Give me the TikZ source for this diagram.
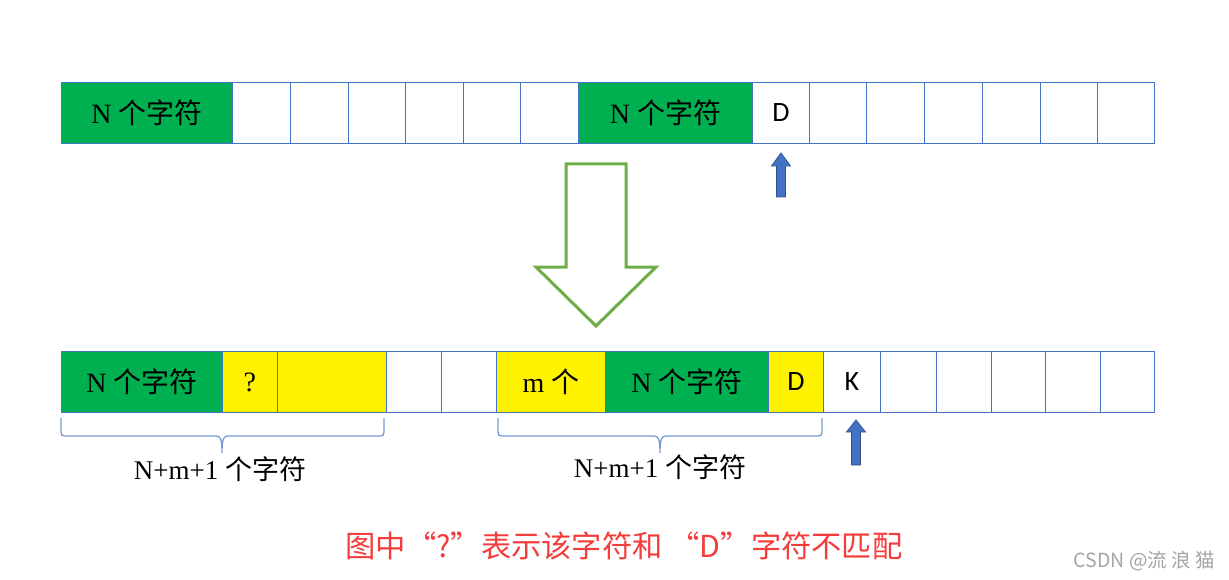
\documentclass[tikz,border=0pt]{standalone}
\usepackage{fontspec}
\setmainfont{Liberation Serif}
\newfontfamily\cjk{Noto Sans CJK SC}
\newfontfamily\calfont{Carlito}
\definecolor{cellblue}{RGB}{68,114,196}
\definecolor{offgreen}{RGB}{0,176,80}
\definecolor{arrowgreen}{RGB}{112,173,71}
\definecolor{arrowblue}{RGB}{68,114,196}
\definecolor{arrowedge}{RGB}{47,82,143}
\definecolor{bracecol}{RGB}{120,152,212}
\definecolor{redtext}{RGB}{245,60,60}
\definecolor{wmgray}{RGB}{165,165,165}
\newcommand\zh[1]{{\cjk #1}}
\begin{document}
\begin{tikzpicture}[x=1pt,y=-1pt,
  cell/.style={draw=cellblue, line width=0.9pt, minimum height=61pt, inner sep=0pt, anchor=north west, font=\fontsize{28pt}{30pt}\selectfont},
  gcell/.style={cell, fill=offgreen},
  ycell/.style={cell, fill=yellow},
  lab/.style={font=\fontsize{27pt}{30pt}\selectfont, inner sep=0pt},
  bracestyle/.style={draw=bracecol, line width=1.3pt},
  blockarrow/.style={fill=arrowblue, draw=arrowedge, line width=0.8pt, line join=miter},
  bigarrow/.style={draw=arrowgreen, fill=white, line width=3pt, line join=miter}
]
\useasboundingbox[fill=white] (0,0) rectangle (1229,580);

% top row
\node[gcell, minimum width=171pt] (t1) at (61,82) {N \zh{个字符}};
\node[cell, minimum width=58pt] (t2) at (232,82) {};
\node[cell, minimum width=58pt] (t3) at (290,82) {};
\node[cell, minimum width=57pt] (t4) at (348,82) {};
\node[cell, minimum width=58pt] (t5) at (405,82) {};
\node[cell, minimum width=57pt] (t6) at (463,82) {};
\node[cell, minimum width=58pt] (t7) at (520,82) {};
\node[gcell, minimum width=174pt] (t8) at (578,82) {N \zh{个字符}};
\node[cell, minimum width=57pt] (t9) at (752,82) {\calfont D};
\node[cell, minimum width=57pt] (t10) at (809,82) {};
\node[cell, minimum width=58pt] (t11) at (866,82) {};
\node[cell, minimum width=58pt] (t12) at (924,82) {};
\node[cell, minimum width=58pt] (t13) at (982,82) {};
\node[cell, minimum width=57pt] (t14) at (1040,82) {};
\node[cell, minimum width=57pt] (t15) at (1097,82) {};

% pointer under D
\path[blockarrow] (781,153) -- (790.5,166) -- (785.5,166) -- (785.5,197) -- (776.5,197) -- (776.5,166) -- (771.5,166) -- cycle;

% big green arrow
\path[bigarrow] (566,164) -- (626,164) -- (626,267) -- (656,267) -- (596,326) -- (536,267) -- (566,267) -- cycle;

% bottom row
\node[gcell, minimum width=161pt] (b1) at (61,351) {N \zh{个字符}};
\node[ycell, minimum width=55pt] (b2) at (222,351) {?};
\node[ycell, minimum width=109pt] (b3) at (277,351) {};
\node[cell, minimum width=55pt] (b4) at (386,351) {};
\node[cell, minimum width=55pt] (b5) at (441,351) {};
\node[ycell, minimum width=109pt] (b6) at (496,351) {m \zh{个}};
\node[gcell, minimum width=163pt] (b7) at (605,351) {N \zh{个字符}};
\node[ycell, minimum width=55pt] (b8) at (768,351) {\calfont D};
\node[cell, minimum width=57pt] (b9) at (823,351) {\calfont K};
\node[cell, minimum width=56pt] (b10) at (880,351) {};
\node[cell, minimum width=55pt] (b11) at (936,351) {};
\node[cell, minimum width=54pt] (b12) at (991,351) {};
\node[cell, minimum width=55pt] (b13) at (1045,351) {};
\node[cell, minimum width=54pt] (b14) at (1100,351) {};

% pointer under K
\path[blockarrow] (856,420) -- (865.5,432) -- (860.5,432) -- (860.5,465) -- (851.5,465) -- (851.5,432) -- (846.5,432) -- cycle;

% braces
\draw[bracestyle] (61,418) -- (61,432) .. controls (61,435) and (62,436) .. (65,436) -- (216,436) .. controls (220,436) and (222,438) .. (222,453) .. controls (222,438) and (224,436) .. (228,436) -- (380,436) .. controls (383,436) and (384,435) .. (384,432) -- (384,418);
\draw[bracestyle] (498,418) -- (498,432) .. controls (498,435) and (499,436) .. (502,436) -- (654,436) .. controls (658,436) and (660,438) .. (660,453) .. controls (660,438) and (662,436) .. (666,436) -- (818,436) .. controls (821,436) and (822,435) .. (822,432) -- (822,418);

\node[lab] (l1) at (220,469) {N+m+1 \zh{个字符}};
\node[lab] (l2) at (660,467) {N+m+1 \zh{个字符}};

% caption
\node[font=\cjk\fontsize{30.3pt}{33pt}\selectfont, text=redtext, inner sep=0pt] (cap) at (624,546) {图中“?”表示该字符和 “D”字符不匹配};

% watermark
\node[font=\cjk\fontsize{19.5pt}{22pt}\selectfont, text=wmgray, inner sep=0pt, anchor=east] (wm) at (1215,561) {CSDN @流 浪 猫};
\end{tikzpicture}
\end{document}
